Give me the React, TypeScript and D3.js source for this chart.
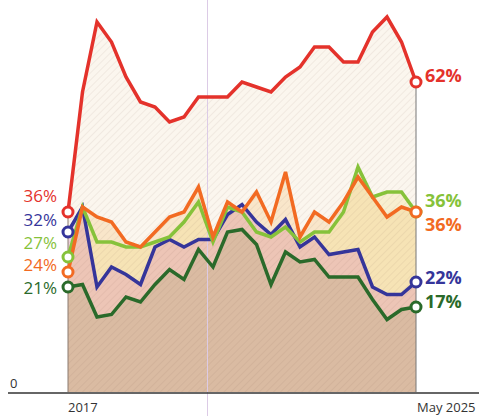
import * as d3 from 'd3';
import React from 'react';

const width = 479;
const height = 416;
const left = 68;
const right = 416;
const baseY = 392;

// poll share (%), 2017 .. May 2025, evenly spaced readings
const red = [36, 60, 74, 70, 63, 58, 57, 54, 55, 59, 59, 59, 62, 61, 60, 63, 65, 69, 69, 66, 66, 72, 75, 70, 62];
const orange = [24, 37, 35, 34, 30, 29, 32, 35, 36, 41, 31, 38, 36, 40, 34, 44, 31, 36, 34, 38, 43, 39, 35, 37, 36];
const lime = [27, 37, 30, 30, 29, 29, 30, 31, 34, 38, 30, 37, 36, 32, 31, 33, 30, 32, 32, 36, 45, 39, 40, 40, 36];
const blue = [32, 37, 21, 25, 23.5, 21.5, 29, 30.5, 29, 30.5, 30.5, 35.5, 37.5, 34, 31.5, 34.5, 29, 31, 27.5, 28, 28.5, 21, 19.5, 19.5, 22];
const darkGreen = [21, 21.5, 15, 15.5, 19, 18, 21.5, 24.5, 22.5, 28.5, 25, 32, 32.5, 29.5, 21.5, 28, 26, 26.5, 23, 23, 23, 18.5, 14.5, 16.5, 17];

const startLabel = '2017';
const endLabel = 'May 2025';
const markerIndex = 9.62;

const series = [
  { key: 'red', values: red, color: '#e4322b', fill: '#fbf6ee' },
  { key: 'orange', values: orange, color: '#f26a22', fill: 'rgba(245,190,110,0.28)' },
  { key: 'lime', values: lime, color: '#86c23a', fill: 'rgba(240,220,120,0.25)' },
  { key: 'blue', values: blue, color: '#35359a', fill: 'rgba(215,130,185,0.3)' },
  { key: 'darkGreen', values: darkGreen, color: '#2a6a2a', fill: 'rgba(170,160,110,0.28)' },
];

// label offsets (px) so the stacked labels don't collide
const leftLabelY: Record<string, number> = { red: -16, blue: -12, lime: -14, orange: -7, darkGreen: 1 };
const rightLabelY: Record<string, number> = { red: -6, lime: -11, orange: 13, blue: -4, darkGreen: -5 };

const n = red.length;
const x = d3.scaleLinear().domain([0, n - 1]).range([left, right]);
const y = d3.scaleLinear().domain([0, 78]).range([baseY, 2]);

const lineGen = d3.line<number>().x((d, i) => x(i)).y(d => y(d));
const areaGen = d3.area<number>().x((d, i) => x(i)).y0(y(0)).y1(d => y(d));

const font = "'Open Sans', sans-serif";

export default function App() {
  const drawOrder = ['darkGreen', 'blue', 'lime', 'orange', 'red'];
  const byKey = (k: string) => series.find(s => s.key === k)!;
  return (
    <svg width={width} height={height} style={{ position: 'absolute', left: 0, top: 0, background: '#fff' }}>
      <defs>
        <pattern id="hatch" width={5} height={5} patternUnits="userSpaceOnUse" patternTransform="rotate(45)">
          <line x1={0} y1={0} x2={0} y2={5} stroke="rgba(120,90,70,0.18)" strokeWidth={0.9} />
        </pattern>
      </defs>

      {/* areas */}
      {series.map(s => (
        <path key={'a' + s.key} d={areaGen(s.values)!} fill={s.fill} />
      ))}
      <path d={areaGen(red)!} fill="url(#hatch)" />

      {/* marker line */}
      <line x1={x(markerIndex)} x2={x(markerIndex)} y1={0} y2={height} stroke="#dccbe6" strokeWidth={1} />

      {/* edges */}
      <line x1={left} x2={left} y1={y(red[0])} y2={baseY} stroke="#8a7a70" strokeWidth={1} />
      <line x1={right} x2={right} y1={y(red[n - 1])} y2={baseY} stroke="#777" strokeWidth={1} />

      {/* baseline */}
      <line x1={8} x2={width} y1={baseY + 1} y2={baseY + 1} stroke="#333" strokeWidth={1.5} />
      <text x={10} y={388} fontFamily={font} fontSize={13} fill="#333">0</text>
      <text x={left} y={412} fontFamily={font} fontSize={13} fill="#333">{startLabel}</text>
      <text x={right + 1} y={412} fontFamily={font} fontSize={13} fill="#333">{endLabel}</text>

      {/* lines */}
      {drawOrder.map(k => {
        const s = byKey(k);
        return (
          <path key={'l' + k} d={lineGen(s.values)!} fill="none" stroke={s.color} strokeWidth={3.5}
            strokeLinejoin="miter" strokeLinecap="round" />
        );
      })}

      {/* end markers */}
      {drawOrder.map(k => {
        const s = byKey(k);
        return (
          <g key={'c' + k}>
            <circle cx={x(0)} cy={y(s.values[0])} r={5} fill="#fff" stroke={s.color} strokeWidth={3} />
            <circle cx={x(n - 1)} cy={y(s.values[n - 1])} r={5} fill="#fff" stroke={s.color} strokeWidth={3} />
          </g>
        );
      })}

      {/* labels */}
      {series.map(s => (
        <text key={'ll' + s.key} x={57} y={y(s.values[0]) + leftLabelY[s.key]} dy="0.35em" textAnchor="end"
          fontFamily={font} fontSize={17} fill={s.color}>
          {Math.round(s.values[0])}%
        </text>
      ))}
      {series.map(s => (
        <text key={'rl' + s.key} x={425} y={y(s.values[n - 1]) + rightLabelY[s.key]} dy="0.35em"
          fontFamily={font} fontSize={18} fontWeight={700} fill={s.color}>
          {Math.round(s.values[n - 1])}%
        </text>
      ))}
    </svg>
  );
}
